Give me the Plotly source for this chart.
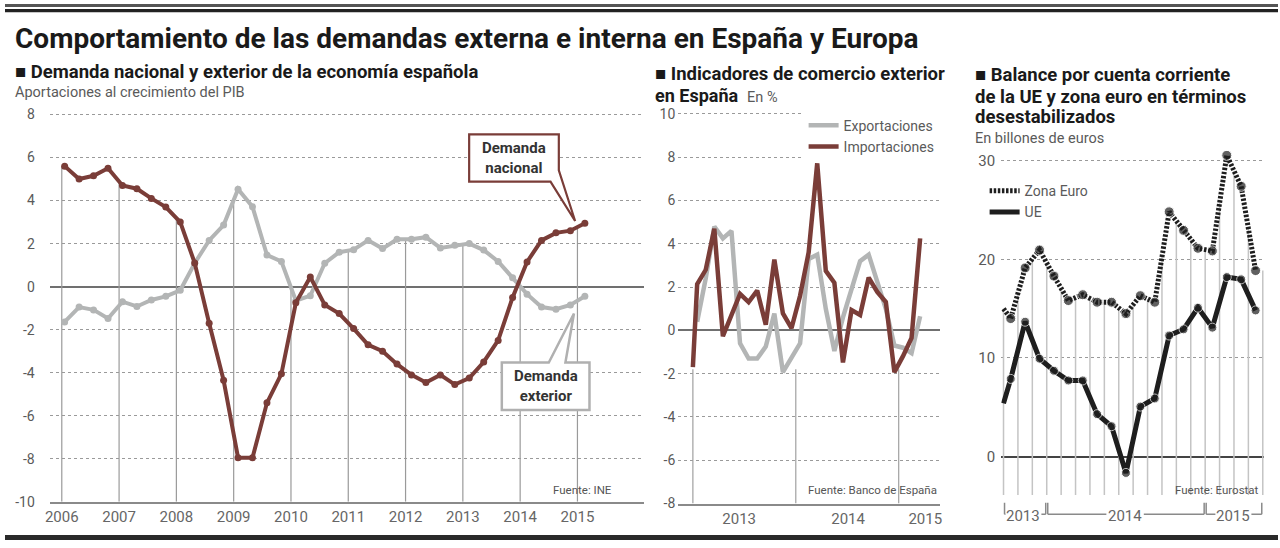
import numpy as np
import plotly.graph_objects as go

W, H = 1280, 548

# ---------------- DATA ----------------
# Panel 1: quarterly contributions to GDP growth, 2006T1 - 2015T1
left_tick_years = [2006, 2007, 2008, 2009, 2010, 2011, 2012, 2013, 2014, 2015]
dem_nacional = [5.6, 5.0, 5.15, 5.5, 4.7, 4.55, 4.1, 3.7, 3.0, 1.1, -1.7, -4.35,
                -7.95, -7.95, -5.4, -4.05, -0.75, 0.45, -0.85, -1.25, -1.95, -2.7,
                -3.0, -3.6, -4.1, -4.45, -4.1, -4.55, -4.25, -3.5, -2.5, -0.5,
                1.15, 2.15, 2.5, 2.6, 2.95]
dem_exterior = [-1.64, -0.95, -1.08, -1.48, -0.7, -0.92, -0.62, -0.45, -0.17, 1.09,
                2.15, 2.86, 4.53, 3.71, 1.47, 1.17, -0.65, -0.42, 1.09, 1.6, 1.72,
                2.15, 1.77, 2.2, 2.2, 2.3, 1.8, 1.92, 2.0, 1.7, 1.17, 0.41, -0.35,
                -0.95, -1.05, -0.85, -0.45]
left_y_ticks = [8, 6, 4, 2, 0, -2, -4, -6, -8, -10]

# Panel 2: monthly foreign trade indicators (%), Jan 2013 - Mar 2015
mid_year_labels = ["2013", "2014", "2015"]
importaciones = [-1.7, 2.14, 2.8, 4.7, -0.27, 0.66, 1.69, 1.31, 1.84, 0.26, 3.27, 0.78,
                 0.1, 1.6, 3.6, 7.72, 2.75, 2.2, -1.48, 0.94, 0.71, 2.44, 1.78, 1.31,
                 -1.93, -1.19, -0.35, 4.25]
exportaciones = [None, 0.4, 2.4, 4.8, 4.25, 4.6, -0.6, -1.3, -1.3, -0.75, 0.78, -1.93,
                 -1.3, -0.6, 3.3, 3.5, 1.0, -0.95, 0.6, 1.9, 3.2, 3.5, 2.3, 1.0,
                 -0.7, -0.8, -1.05, 0.65]
mid_y_ticks = [10, 8, 6, 4, 2, 0, -2, -4, -6, -8]

# Panel 3: current account balance (billions of euros)
right_year_labels = ["2013", "2014", "2015"]
ue = [5.4, 7.88, 13.68, 9.93, 8.71, 7.72, 7.72, 4.3, 3.08, -1.66, 5.07, 5.89,
      12.28, 12.91, 15.1, 13.08, 18.21, 17.98, 14.83]
zona_euro = [15.0, 14.0, 19.14, 20.96, 18.31, 15.83, 16.42, 15.66, 15.66, 14.5,
             16.32, 15.66, 24.83, 22.95, 21.13, 20.86, 30.56, 27.42, 18.87]
right_y_ticks = [30, 20, 10, 0]

# ---------------- STYLE ----------------
RED = "#7a3d38"
GREY = "#b3b5b5"
DARK = "#1e1e1e"
TXT = "#5a5a5a"
FONT = "Roboto"


def px_x(p):
    return p / W


def px_y(p):
    return 1 - p / H


# x positions (computed, not data)
left_x = 2006.05 + np.arange(len(dem_nacional)) * 0.2522
mid_x = np.concatenate([[0.0], np.arange(len(importaciones) - 1) + 0.5])
right_x = np.concatenate([[0.0], np.arange(len(ue) - 1) + 0.5])

fig = go.Figure()

# ---- Panel 1 vertical drop lines at year ticks ----
vx, vy = [], []
for yr in left_tick_years:
    top = max(np.interp(yr, left_x, dem_nacional), np.interp(yr, left_x, dem_exterior))
    vx += [yr, yr, None]
    vy += [-10, top, None]
fig.add_trace(go.Scatter(x=vx, y=vy, mode="lines", line=dict(color="#9a9a9a", width=1.2),
                         hoverinfo="skip", showlegend=False, xaxis="x", yaxis="y"))

fig.add_trace(go.Scatter(x=left_x, y=dem_exterior, mode="lines+markers",
                         line=dict(color=GREY, width=4), marker=dict(color=GREY, size=7),
                         name="Demanda exterior", showlegend=False, xaxis="x", yaxis="y"))
fig.add_trace(go.Scatter(x=left_x, y=dem_nacional, mode="lines+markers",
                         line=dict(color=RED, width=4), marker=dict(color=RED, size=7),
                         name="Demanda nacional", showlegend=False, xaxis="x", yaxis="y"))

# ---- Panel 2 ----
mvx, mvy = [], []
for b in [0, 12, 24]:
    mvx += [b, b, None]
    mvy += [-8, -1.8, None]
fig.add_trace(go.Scatter(x=mvx, y=mvy, mode="lines", line=dict(color="#a0a0a0", width=1.2),
                         hoverinfo="skip", showlegend=False, xaxis="x2", yaxis="y2"))
fig.add_trace(go.Scatter(x=mid_x, y=exportaciones, mode="lines",
                         line=dict(color=GREY, width=4.5), showlegend=False,
                         xaxis="x2", yaxis="y2"))
fig.add_trace(go.Scatter(x=mid_x, y=importaciones, mode="lines",
                         line=dict(color=RED, width=4.5), showlegend=False,
                         xaxis="x2", yaxis="y2"))
fig.add_trace(go.Scatter(x=[None], y=[None], mode="lines", name="Exportaciones",
                         line=dict(color=GREY, width=4.5), legend="legend",
                         xaxis="x2", yaxis="y2"))
fig.add_trace(go.Scatter(x=[None], y=[None], mode="lines", name="Importaciones",
                         line=dict(color=RED, width=4.5), legend="legend",
                         xaxis="x2", yaxis="y2"))

# ---- Panel 3 ----
rvx, rvy = [], []
for b in range(len(ue)):
    top = np.interp(b, right_x, zona_euro)
    rvx += [b, b, None]
    rvy += [-3.9, top, None]
fig.add_trace(go.Scatter(x=rvx, y=rvy, mode="lines", line=dict(color="#c4c4c4", width=1.5),
                         hoverinfo="skip", showlegend=False, xaxis="x3", yaxis="y3"))
msize = [0] + [10] * (len(ue) - 1)
fig.add_trace(go.Scatter(x=right_x, y=zona_euro, mode="lines+markers",
                         line=dict(color=DARK, width=5, dash="2.5px,1.6px"),
                         marker=dict(color=DARK, size=msize), showlegend=False,
                         xaxis="x3", yaxis="y3"))
fig.add_trace(go.Scatter(x=right_x, y=ue, mode="lines+markers",
                         line=dict(color=DARK, width=5),
                         marker=dict(color=DARK, size=[0] + [9] * (len(ue) - 1)),
                         showlegend=False, xaxis="x3", yaxis="y3"))
fig.add_trace(go.Scatter(x=[None], y=[None], mode="lines", name="Zona Euro",
                         line=dict(color=DARK, width=5, dash="2.5px,1.6px"),
                         legend="legend2", xaxis="x3", yaxis="y3"))
fig.add_trace(go.Scatter(x=[None], y=[None], mode="lines", name="UE",
                         line=dict(color=DARK, width=5), legend="legend2",
                         xaxis="x3", yaxis="y3"))


def ytext(v):
    return str(v).replace("\u2212", "-")


common_y = dict(showgrid=True, gridcolor="#9a9a9a", griddash="dot", gridwidth=1.3,
                zeroline=True, ticks="", tickfont=dict(size=14, color=TXT, family=FONT),
                showline=False, fixedrange=True)
common_x = dict(showgrid=False, zeroline=False, ticks="",
                tickfont=dict(size=15, color="#666666", family=FONT), fixedrange=True)

shapes = []
annotations = []

# header rules
shapes.append(dict(type="rect", xref="paper", yref="paper", x0=0, x1=1,
                   y0=px_y(3), y1=px_y(0), fillcolor="#555555", line=dict(width=0)))
shapes.append(dict(type="rect", xref="paper", yref="paper", x0=0, x1=1,
                   y0=px_y(8.5), y1=px_y(5), fillcolor="#222222", line=dict(width=0)))
shapes.append(dict(type="rect", xref="paper", yref="paper", x0=0, x1=1,
                   y0=0, y1=px_y(543), fillcolor="#2a2a2a", line=dict(width=0)))

# callout: Demanda nacional
tipx, tipy = left_x[-1] - 0.17, dem_nacional[-1] + 0.1
xL, xR, yT, yB = 2013.11, 2014.675, 7.08, 4.88
path = (f"M {xL},{yT} L {xR},{yT} L {xR},5.41 L {tipx},{tipy} "
        f"L 2014.53,{yB} L {xL},{yB} Z")
shapes.append(dict(type="path", xref="x", yref="y", path=path, fillcolor="white",
                   line=dict(color=RED, width=2.2)))
annotations.append(dict(xref="x", yref="y", x=(xL + xR) / 2, y=(yT + yB) / 2,
                        text="<b>Demanda<br>nacional</b>", showarrow=False,
                        font=dict(size=15, color="#333333", family=FONT)))

# callout: Demanda exterior
tipx, tipy = left_x[-1] - 0.19, dem_exterior[-1] - 0.8
xL, xR, yT, yB = 2013.68, 2015.21, -3.53, -5.73
path = (f"M {xL},{yT} L 2014.50,{yT} L {tipx},{tipy} L 2014.79,{yT} "
        f"L {xR},{yT} L {xR},{yB} L {xL},{yB} Z")
shapes.append(dict(type="path", xref="x", yref="y", path=path, fillcolor="white",
                   line=dict(color="#b0b0b0", width=2.5)))
annotations.append(dict(xref="x", yref="y", x=(xL + xR) / 2, y=(yT + yB) / 2,
                        text="<b>Demanda<br>exterior</b>", showarrow=False,
                        font=dict(size=15, color="#333333", family=FONT)))

# right panel year brackets
brackets = [(0, 3, 1.38, 1.15), (3, 14, 8.44, 1.2), (14, 18, 15.96, 1.15)]
yb_top, yb_line = px_y(510), px_y(521.7)
for (s, e, c, hw), lab in zip(brackets, right_year_labels):
    s2, e2 = s + 0.07, e - 0.07
    for seg in [(s2, c - hw - 0.1), (c + hw + 0.1, e2)]:
        shapes.append(dict(type="line", xref="x3", yref="paper", x0=seg[0], x1=seg[1],
                           y0=yb_line, y1=yb_line, line=dict(color="#8a8a8a", width=1.5)))
    for xv in (s2, e2):
        shapes.append(dict(type="line", xref="x3", yref="paper", x0=xv, x1=xv,
                           y0=yb_top, y1=yb_line, line=dict(color="#8a8a8a", width=1.5)))
    annotations.append(dict(xref="x3", yref="paper", x=c, y=px_y(523), text=lab,
                            showarrow=False, yanchor="middle",
                            font=dict(size=15, color="#666666", family=FONT)))


# titles
def txt(x, y, text, size, color="#1a1a1a", anchor="left"):
    annotations.append(dict(xref="paper", yref="paper", x=px_x(x), y=px_y(y), text=text,
                            showarrow=False, xanchor=anchor, yanchor="middle",
                            font=dict(size=size, color=color, family=FONT)))


txt(8, 35, "<b>Comportamiento de las demandas externa e interna en España y Europa</b>", 28)
txt(8, 70, "<b>■ Demanda nacional y exterior de la economía española</b>", 18.5)
txt(8, 90, "Aportaciones al crecimiento del PIB", 14.5, TXT)
txt(652, 72, "<b>■ Indicadores de comercio exterior</b>", 18.5)
txt(652, 94, "<b>en España</b>  <span style='font-size:14.5px;color:#5a5a5a'>En %</span>", 18)
txt(973, 73, "<b>■ Balance por cuenta corriente</b>", 18.5)
txt(973, 95, "<b>de la UE y zona euro en términos</b>", 18.5)
txt(973, 116, "<b>desestabilizados</b>", 18.5)
txt(973, 138, "En billones de euros", 14.5, TXT)
txt(612, 497, "Fuente: INE", 11.5, "#555555", "right")
txt(939, 497, "Fuente: Banco de España", 11.5, "#555555", "right")
txt(1263, 497, "Fuente: Eurostat", 11.5, "#555555", "right")

fig.update_layout(
    width=W, height=H,
    margin=dict(l=0, r=0, t=0, b=0),
    paper_bgcolor="white", plot_bgcolor="rgba(0,0,0,0)",
    font=dict(family=FONT, color=TXT),
    xaxis=dict(common_x, domain=[px_x(45), px_x(643)], range=[2005.79, 2016.17],
               tickvals=left_tick_years, ticktext=[str(v) for v in left_tick_years],
               showline=True, linecolor="#8a8a8a", linewidth=2, anchor="y"),
    yaxis=dict(common_y, domain=[px_y(509), px_y(109)], range=[-10, 8.18],
               tickvals=left_y_ticks, ticktext=[ytext(v) for v in left_y_ticks],
               zerolinecolor="#707070", zerolinewidth=2, anchor="x", ticklabelstandoff=14),
    xaxis2=dict(common_x, domain=[px_x(677), px_x(940)], range=[-1.7, 28.8],
                tickvals=[5.4, 18.1, 27.1], ticktext=mid_year_labels,
                showline=True, linecolor="#8a8a8a", linewidth=2, anchor="y2"),
    yaxis2=dict(common_y, domain=[px_y(510.7), px_y(108)], range=[-8, 10.2],
                tickvals=mid_y_ticks, ticktext=[ytext(v) for v in mid_y_ticks],
                zerolinecolor="#707070", zerolinewidth=2, anchor="x2", ticklabelstandoff=2),
    xaxis3=dict(common_x, domain=[px_x(1001.7), px_x(1266)], range=[-0.16, 18.09],
                showticklabels=False, anchor="y3"),
    yaxis3=dict(common_y, domain=[px_y(502), px_y(150)], range=[-3.9, 31.03],
                tickvals=right_y_ticks, ticktext=[ytext(v) for v in right_y_ticks],
                zerolinecolor="#444444", zerolinewidth=1.6, anchor="x3",
                ticklabelstandoff=5, tickfont=dict(size=15, color=TXT, family=FONT)),
    legend=dict(x=px_x(803), y=px_y(108), xanchor="left", yanchor="top",
                bgcolor="white", font=dict(size=14, color=TXT, family=FONT),
                borderwidth=0, tracegroupgap=0),
    legend2=dict(x=px_x(985), y=px_y(175), xanchor="left", yanchor="top",
                 bgcolor="rgba(255,255,255,0)", font=dict(size=14, color=TXT, family=FONT),
                 borderwidth=0, tracegroupgap=0),
    shapes=shapes,
    annotations=annotations,
)

fig.write_html("out.html", post_script="document.body.style.margin='0';")
